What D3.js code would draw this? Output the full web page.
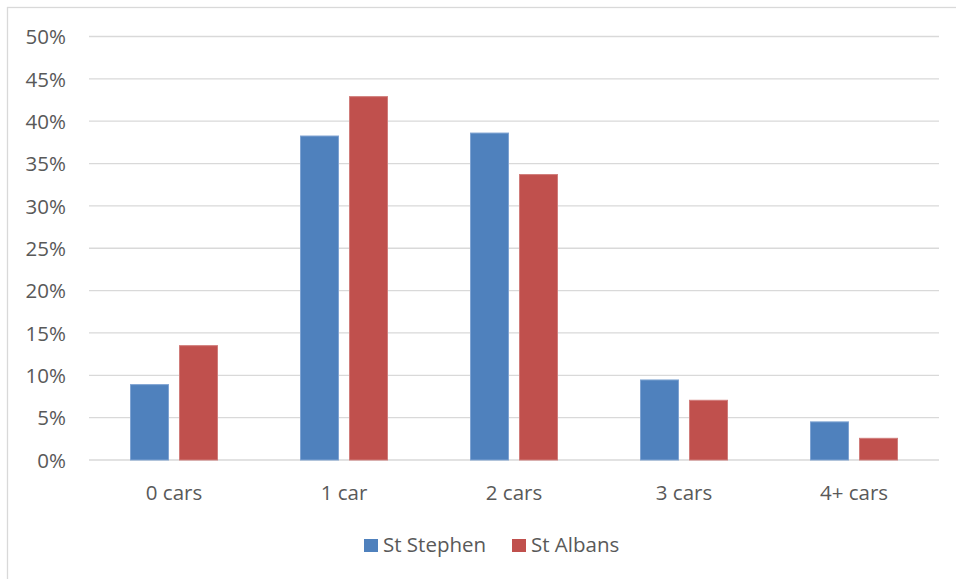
<!DOCTYPE html>
<html><head><meta charset="utf-8">
<script src="https://cdn.jsdelivr.net/npm/d3@7"></script>
<style>body{margin:0;background:#fff}svg{display:block}text{font-family:"Open Sans",sans-serif;fill:#595959}</style>
</head><body><svg id="c" width="956" height="579"></svg>
<script>
const categories = ["0 cars","1 car","2 cars","3 cars","4+ cars"];
const seriesNames = ["St Stephen","St Albans"];
const stStephen = [8.9, 38.25, 38.6, 9.45, 4.5];
const stAlbans = [13.5, 42.9, 33.7, 7.05, 2.56];
const yTicks = [0,5,10,15,20,25,30,35,40,45,50];
const colors = ["#4F81BD","#C0504D"];
const strokes = ["#7FA3D2","#D07C7A"];

(function(){
const FS = 20.5;
const svg = d3.select("#c");
svg.append("rect").attr("x",7.5).attr("y",7.5).attr("width",980).attr("height",620)
  .attr("fill","#fff").attr("stroke","#d9d9d9").attr("stroke-width",1.3);

const pLeft=89, pRight=939, pTop=36.5, pBottom=460;
const x = d3.scaleBand().domain(categories).range([pLeft,pRight]);
const y = d3.scaleLinear().domain([0,50]).range([pBottom,pTop]);

svg.append("g").selectAll("line").data(yTicks).join("line")
  .attr("x1",pLeft).attr("x2",pRight).attr("y1",d=>y(d)).attr("y2",d=>y(d))
  .attr("stroke","#d9d9d9").attr("stroke-width",1.3);

const yAxis = d3.axisLeft(y).tickValues(yTicks).tickFormat(d=>d+"%").tickSize(0).tickPadding(0);
const ga = svg.append("g").attr("transform",`translate(${66},0)`).call(yAxis);
ga.select(".domain").remove();
ga.selectAll("text").attr("font-size",FS).attr("fill","#595959").attr("font-family","'Open Sans',sans-serif").attr("dy","0.35em");

const data = categories.map((c,i)=>({c, vals:[stStephen[i], stAlbans[i]]}));
const barW = 38, gap = 11;
data.forEach(d=>{
  const cx = x(d.c)+x.bandwidth()/2;
  d.vals.forEach((v,j)=>{
    const bx = cx - gap/2 - barW + j*(barW+gap);
    svg.append("rect").attr("x",bx).attr("y",y(v)).attr("width",barW).attr("height",y(0)-y(v))
      .attr("fill",colors[j]).attr("stroke",strokes[j]).attr("stroke-width",1);
  });
});

const xAxis = d3.axisBottom(x).tickSize(0).tickPadding(0);
const gx = svg.append("g").attr("transform",`translate(0,${499.5})`).call(xAxis);
gx.select(".domain").remove();
gx.selectAll("text").attr("font-size",FS).attr("fill","#595959").attr("font-family","'Open Sans',sans-serif").attr("dy",0).attr("y",0);

const legendX = [364, 512];
seriesNames.forEach((n,j)=>{
  svg.append("rect").attr("x",legendX[j]).attr("y",539).attr("width",14).attr("height",13).attr("fill",colors[j]);
  svg.append("text").attr("x",legendX[j]+19).attr("y",551.5).attr("font-size",FS).text(n);
});
})();
</script></body></html>
